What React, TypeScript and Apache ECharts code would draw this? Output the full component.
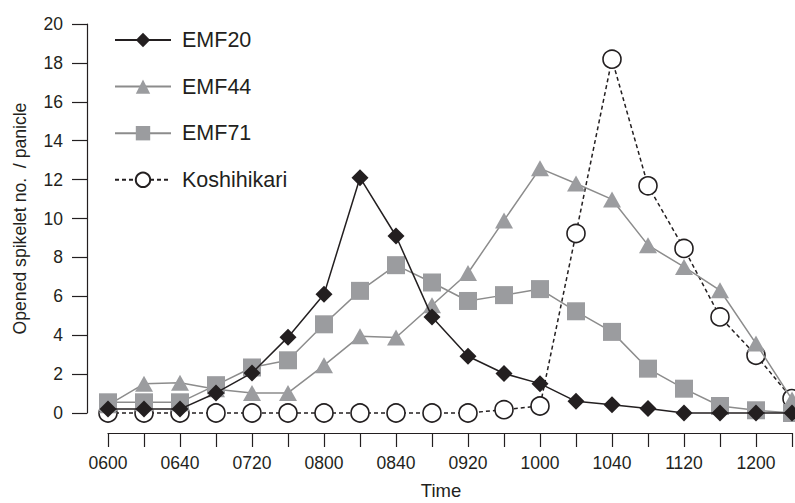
import React, { useEffect, useRef } from "react";
import * as echarts from "echarts";

const categories = [
  "0600", "0620", "0640", "0700", "0720", "0740", "0800", "0820", "0840", "0900",
  "0920", "0940", "1000", "1020", "1040", "1100", "1120", "1140", "1200", "1220",
];
const emf20 = [0.2, 0.2, 0.2, 1.03, 2.06, 3.9, 6.1, 12.1, 9.1, 4.94, 2.92, 2.03, 1.51, 0.6, 0.43, 0.23, 0.0, 0.0, 0.0, 0.0];
const emf44 = [0.4, 1.5, 1.56, 1.22, 1.03, 1.03, 2.45, 3.95, 3.88, 5.54, 7.2, 9.9, 12.58, 11.8, 10.98, 8.63, 7.51, 6.31, 3.57, 0.7];
const emf71 = [0.55, 0.55, 0.55, 1.43, 2.34, 2.71, 4.56, 6.28, 7.6, 6.71, 5.76, 6.06, 6.37, 5.23, 4.17, 2.28, 1.25, 0.36, 0.14, 0.0];
const koshihikari = [0, 0, 0, 0, 0, 0, 0, 0, 0, 0, 0, 0.17, 0.36, 9.23, 18.19, 11.68, 8.46, 4.94, 2.97, 0.74];

const FONT = "Liberation Sans, Arial, sans-serif";
const TXT = "#231f20";
const BLACK = "#231f20";
const GRAY_LINE = "#8c8c8c";
const GRAY_MARK = "#9b9c9f";

export default function App() {
  const ref = useRef<HTMLDivElement>(null);
  useEffect(() => {
    if (!ref.current) return;
    const chart = echarts.init(ref.current, null, { renderer: "svg" });
    chart.setOption({
      animation: false,
      backgroundColor: "#ffffff",
      textStyle: { fontFamily: FONT, color: TXT },
      grid: { left: 108, right: 3, top: 24, bottom: 90, containLabel: false, outerBoundsMode: "none" },
      legend: {
        data: ["EMF20", "EMF44", "EMF71", "Koshihikari"],
        orient: "vertical",
        left: 114,
        top: 29,
        padding: 0,
        itemWidth: 56,
        itemHeight: 18,
        itemGap: 24.6,
        textStyle: { fontFamily: FONT, fontSize: 21.5, color: TXT, padding: [0, 0, 0, 6] },
      },
      xAxis: {
        type: "category",
        data: categories,
        boundaryGap: false,
        offset: 20,
        axisLine: { onZero: false, lineStyle: { color: BLACK, width: 1.2 } },
        axisTick: { show: true, length: 14, interval: 0, lineStyle: { color: BLACK, width: 1.2 } },
        axisLabel: { interval: 1, margin: 21, fontSize: 17.5, color: TXT, fontFamily: FONT },
        splitLine: { show: false },
        name: "Time",
        nameLocation: "middle",
        nameGap: 48,
        nameTextStyle: { fontSize: 18.5, color: TXT, fontFamily: FONT, padding: [0, 18, 0, 0] },
      },
      yAxis: {
        type: "value",
        min: 0,
        max: 20,
        interval: 2,
        offset: 21,
        axisLine: { show: true, lineStyle: { color: BLACK, width: 1.2 } },
        axisTick: { show: true, length: 15, lineStyle: { color: BLACK, width: 1.2 } },
        axisLabel: { margin: 24, fontSize: 17.5, color: TXT, fontFamily: FONT },
        splitLine: { show: false },
        name: "Opened spikelet no.  / panicle",
        nameLocation: "middle",
        nameGap: 58,
        nameTextStyle: { fontSize: 17.6, color: TXT, fontFamily: FONT },
      },
      series: [
        {
          name: "Koshihikari",
          type: "line",
          data: koshihikari,
          clip: false,
          symbol: "circle",
          symbolSize: 18,
          lineStyle: { color: BLACK, width: 1.5, type: [4, 3] },
          itemStyle: { color: "#ffffff", borderColor: BLACK, borderWidth: 1.6 },
          z: 2,
        },
        {
          name: "EMF44",
          type: "line",
          data: emf44,
          clip: false,
          symbol: "triangle",
          symbolSize: [18, 16],
          lineStyle: { color: GRAY_LINE, width: 1.5 },
          itemStyle: { color: GRAY_MARK, borderWidth: 0 },
          z: 3,
        },
        {
          name: "EMF71",
          type: "line",
          data: emf71,
          clip: false,
          symbol: "rect",
          symbolSize: 18,
          lineStyle: { color: GRAY_LINE, width: 1.5 },
          itemStyle: { color: GRAY_MARK, borderWidth: 0 },
          z: 4,
        },
        {
          name: "EMF20",
          type: "line",
          data: emf20,
          clip: false,
          symbol: "diamond",
          symbolSize: 17,
          lineStyle: { color: BLACK, width: 1.5 },
          itemStyle: { color: BLACK, borderWidth: 0 },
          z: 5,
        },
      ],
    });
    return () => chart.dispose();
  }, []);
  return (
    <div
      ref={ref}
      style={{ position: "fixed", left: 0, top: 0, width: 795, height: 503, background: "#fff" }}
    />
  );
}
